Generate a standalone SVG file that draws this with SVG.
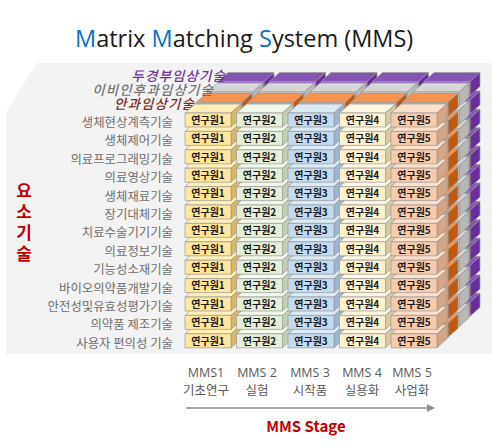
<svg xmlns="http://www.w3.org/2000/svg" xmlns:xlink="http://www.w3.org/1999/xlink" width="500" height="446" viewBox="0 0 500 446">
<style>
.lbl{font-family:"Noto Sans CJK KR",sans-serif;font-size:12.4px;fill:#6f6f6f;text-anchor:end}
.cell{font-family:"Noto Sans CJK KR",sans-serif;font-size:10px;font-weight:bold;fill:#1a1a1a;text-anchor:middle}
.lay{font-family:"Noto Sans CJK KR",sans-serif;font-size:13.5px;letter-spacing:1.1px;font-style:italic;font-weight:500;text-anchor:end}
.stg{font-family:"Noto Sans CJK KR",sans-serif;font-size:12.5px;fill:#595959;text-anchor:middle}
.stm{font-family:"Open Sans","Noto Sans",sans-serif;font-size:12.5px;fill:#595959;text-anchor:middle}
.bx{stroke:#9a9a9a;stroke-width:0.7;stroke-linejoin:round}
</style>
<defs>
<g id="c1" class="bx"><path d="M0,0 L10,-9 L56,-9 L46,0Z" fill="#fff0b8"/><path d="M46,0 L56,-9 L56,5 L46,14Z" fill="#d8b868"/><rect width="46" height="14" fill="#ffe699"/></g>
<g id="c2" class="bx"><path d="M0,0 L10,-9 L56,-9 L46,0Z" fill="#f2f8ec"/><path d="M46,0 L56,-9 L56,5 L46,14Z" fill="#c2cfb5"/><rect width="46" height="14" fill="#e4efda"/></g>
<g id="c3" class="bx"><path d="M0,0 L10,-9 L56,-9 L46,0Z" fill="#dceaf7"/><path d="M46,0 L56,-9 L56,5 L46,14Z" fill="#9fb6cc"/><rect width="46" height="14" fill="#c3dbf0"/></g>
<g id="c4" class="bx"><path d="M0,0 L10,-9 L56,-9 L46,0Z" fill="#fff8e4"/><path d="M46,0 L56,-9 L56,5 L46,14Z" fill="#d9c9a0"/><rect width="46" height="14" fill="#fff2cf"/></g>
<g id="c5" class="bx"><path d="M0,0 L10,-9 L56,-9 L46,0Z" fill="#fce0cc"/><path d="M46,0 L56,-9 L56,5 L46,14Z" fill="#d6a584"/><rect width="46" height="14" fill="#f8cbad"/></g>
<g id="bo" class="bx"><path d="M0,0 L10,-9 L56,-9 L46,0Z" fill="#f59450"/><path d="M46,0 L56,-9 L56,5 L46,14Z" fill="#bf5a12"/><rect width="46" height="14" fill="#f4a46c"/></g>
<g id="bg" class="bx"><path d="M0,0 L10,-9 L56,-9 L46,0Z" fill="#d6d6d6"/><path d="M46,0 L56,-9 L56,5 L46,14Z" fill="#b8b8b8"/><rect width="46" height="14" fill="#cfcfcf"/></g>
<g id="bp" class="bx"><path d="M0,0 L10,-9 L56,-9 L46,0Z" fill="#8455b4"/><path d="M46,0 L56,-9 L56,5 L46,14Z" fill="#6a2e9c"/><rect width="46" height="14" fill="#9466c2"/></g>
<marker id="arr" viewBox="0 0 10 10" refX="9" refY="5" markerWidth="5" markerHeight="5" orient="auto"><path d="M0,0 L10,5 L0,10Z" fill="#8c8c8c"/></marker>
</defs>

<path d="M37,63 L492,63 L492,354 L6,354 L6,112 Z" fill="#f3f3f3"/>

<text x="75" y="47" font-family="'Open Sans','Noto Sans',sans-serif" font-size="23.5" fill="#1a1a1a"><tspan fill="#0a70c8">M</tspan>atrix <tspan fill="#0a70c8">M</tspan>atching <tspan fill="#0a70c8">S</tspan>ystem (MMS)</text>

<g id="layer-purple" transform="translate(33,-31.5)">
<use href="#bp" x="391" y="333.8"/><use href="#bp" x="391" y="315.4"/><use href="#bp" x="391" y="297"/><use href="#bp" x="391" y="278.6"/><use href="#bp" x="391" y="260.2"/><use href="#bp" x="391" y="241.8"/><use href="#bp" x="391" y="223.4"/><use href="#bp" x="391" y="205"/><use href="#bp" x="391" y="186.6"/><use href="#bp" x="391" y="168.2"/><use href="#bp" x="391" y="149.8"/><use href="#bp" x="391" y="131.4"/>
<use href="#bp" x="185" y="113"/><use href="#bp" x="236.5" y="113"/><use href="#bp" x="288" y="113"/><use href="#bp" x="339.5" y="113"/><use href="#bp" x="391" y="113"/>
</g>
<g id="layer-grey" transform="translate(22,-21)">
<use href="#bg" x="391" y="333.8"/><use href="#bg" x="391" y="315.4"/><use href="#bg" x="391" y="297"/><use href="#bg" x="391" y="278.6"/><use href="#bg" x="391" y="260.2"/><use href="#bg" x="391" y="241.8"/><use href="#bg" x="391" y="223.4"/><use href="#bg" x="391" y="205"/><use href="#bg" x="391" y="186.6"/><use href="#bg" x="391" y="168.2"/><use href="#bg" x="391" y="149.8"/><use href="#bg" x="391" y="131.4"/>
<use href="#bg" x="185" y="113"/><use href="#bg" x="236.5" y="113"/><use href="#bg" x="288" y="113"/><use href="#bg" x="339.5" y="113"/><use href="#bg" x="391" y="113"/>
</g>
<g id="layer-orange" transform="translate(11,-10.5)">
<use href="#bo" x="391" y="333.8"/><use href="#bo" x="391" y="315.4"/><use href="#bo" x="391" y="297"/><use href="#bo" x="391" y="278.6"/><use href="#bo" x="391" y="260.2"/><use href="#bo" x="391" y="241.8"/><use href="#bo" x="391" y="223.4"/><use href="#bo" x="391" y="205"/><use href="#bo" x="391" y="186.6"/><use href="#bo" x="391" y="168.2"/><use href="#bo" x="391" y="149.8"/><use href="#bo" x="391" y="131.4"/>
<use href="#bo" x="185" y="113"/><use href="#bo" x="236.5" y="113"/><use href="#bo" x="288" y="113"/><use href="#bo" x="339.5" y="113"/><use href="#bo" x="391" y="113"/>
</g>

<text id="layer-labels" class="lay"><tspan x="226" y="80.5" fill="#7030a0">두경부임상기술</tspan><tspan x="214" y="95" fill="#737373">이비인후과임상기술</tspan><tspan x="195" y="108.5" fill="#7b2a1e">안과임상기술</tspan></text>

<g id="grid">
<g id="r12"><g transform="translate(185,333.8)"><use href="#c1"/><text class="cell" x="23" y="10.8">연구원1</text></g><g transform="translate(236.5,333.8)"><use href="#c2"/><text class="cell" x="23" y="10.8">연구원2</text></g><g transform="translate(288,333.8)"><use href="#c3"/><text class="cell" x="23" y="10.8">연구원3</text></g><g transform="translate(339.5,333.8)"><use href="#c4"/><text class="cell" x="23" y="10.8">연구원4</text></g><g transform="translate(391,333.8)"><use href="#c5"/><text class="cell" x="23" y="10.8">연구원5</text></g></g>
<g id="r11"><g transform="translate(185,315.4)"><use href="#c1"/><text class="cell" x="23" y="10.8">연구원1</text></g><g transform="translate(236.5,315.4)"><use href="#c2"/><text class="cell" x="23" y="10.8">연구원2</text></g><g transform="translate(288,315.4)"><use href="#c3"/><text class="cell" x="23" y="10.8">연구원3</text></g><g transform="translate(339.5,315.4)"><use href="#c4"/><text class="cell" x="23" y="10.8">연구원4</text></g><g transform="translate(391,315.4)"><use href="#c5"/><text class="cell" x="23" y="10.8">연구원5</text></g></g>
<g id="r10"><g transform="translate(185,297)"><use href="#c1"/><text class="cell" x="23" y="10.8">연구원1</text></g><g transform="translate(236.5,297)"><use href="#c2"/><text class="cell" x="23" y="10.8">연구원2</text></g><g transform="translate(288,297)"><use href="#c3"/><text class="cell" x="23" y="10.8">연구원3</text></g><g transform="translate(339.5,297)"><use href="#c4"/><text class="cell" x="23" y="10.8">연구원4</text></g><g transform="translate(391,297)"><use href="#c5"/><text class="cell" x="23" y="10.8">연구원5</text></g></g>
<g id="r9"><g transform="translate(185,278.6)"><use href="#c1"/><text class="cell" x="23" y="10.8">연구원1</text></g><g transform="translate(236.5,278.6)"><use href="#c2"/><text class="cell" x="23" y="10.8">연구원2</text></g><g transform="translate(288,278.6)"><use href="#c3"/><text class="cell" x="23" y="10.8">연구원3</text></g><g transform="translate(339.5,278.6)"><use href="#c4"/><text class="cell" x="23" y="10.8">연구원4</text></g><g transform="translate(391,278.6)"><use href="#c5"/><text class="cell" x="23" y="10.8">연구원5</text></g></g>
<g id="r8"><g transform="translate(185,260.2)"><use href="#c1"/><text class="cell" x="23" y="10.8">연구원1</text></g><g transform="translate(236.5,260.2)"><use href="#c2"/><text class="cell" x="23" y="10.8">연구원2</text></g><g transform="translate(288,260.2)"><use href="#c3"/><text class="cell" x="23" y="10.8">연구원3</text></g><g transform="translate(339.5,260.2)"><use href="#c4"/><text class="cell" x="23" y="10.8">연구원4</text></g><g transform="translate(391,260.2)"><use href="#c5"/><text class="cell" x="23" y="10.8">연구원5</text></g></g>
<g id="r7"><g transform="translate(185,241.8)"><use href="#c1"/><text class="cell" x="23" y="10.8">연구원1</text></g><g transform="translate(236.5,241.8)"><use href="#c2"/><text class="cell" x="23" y="10.8">연구원2</text></g><g transform="translate(288,241.8)"><use href="#c3"/><text class="cell" x="23" y="10.8">연구원3</text></g><g transform="translate(339.5,241.8)"><use href="#c4"/><text class="cell" x="23" y="10.8">연구원4</text></g><g transform="translate(391,241.8)"><use href="#c5"/><text class="cell" x="23" y="10.8">연구원5</text></g></g>
<g id="r6"><g transform="translate(185,223.4)"><use href="#c1"/><text class="cell" x="23" y="10.8">연구원1</text></g><g transform="translate(236.5,223.4)"><use href="#c2"/><text class="cell" x="23" y="10.8">연구원2</text></g><g transform="translate(288,223.4)"><use href="#c3"/><text class="cell" x="23" y="10.8">연구원3</text></g><g transform="translate(339.5,223.4)"><use href="#c4"/><text class="cell" x="23" y="10.8">연구원4</text></g><g transform="translate(391,223.4)"><use href="#c5"/><text class="cell" x="23" y="10.8">연구원5</text></g></g>
<g id="r5"><g transform="translate(185,205)"><use href="#c1"/><text class="cell" x="23" y="10.8">연구원1</text></g><g transform="translate(236.5,205)"><use href="#c2"/><text class="cell" x="23" y="10.8">연구원2</text></g><g transform="translate(288,205)"><use href="#c3"/><text class="cell" x="23" y="10.8">연구원3</text></g><g transform="translate(339.5,205)"><use href="#c4"/><text class="cell" x="23" y="10.8">연구원4</text></g><g transform="translate(391,205)"><use href="#c5"/><text class="cell" x="23" y="10.8">연구원5</text></g></g>
<g id="r4"><g transform="translate(185,186.6)"><use href="#c1"/><text class="cell" x="23" y="10.8">연구원1</text></g><g transform="translate(236.5,186.6)"><use href="#c2"/><text class="cell" x="23" y="10.8">연구원2</text></g><g transform="translate(288,186.6)"><use href="#c3"/><text class="cell" x="23" y="10.8">연구원3</text></g><g transform="translate(339.5,186.6)"><use href="#c4"/><text class="cell" x="23" y="10.8">연구원4</text></g><g transform="translate(391,186.6)"><use href="#c5"/><text class="cell" x="23" y="10.8">연구원5</text></g></g>
<g id="r3"><g transform="translate(185,168.2)"><use href="#c1"/><text class="cell" x="23" y="10.8">연구원1</text></g><g transform="translate(236.5,168.2)"><use href="#c2"/><text class="cell" x="23" y="10.8">연구원2</text></g><g transform="translate(288,168.2)"><use href="#c3"/><text class="cell" x="23" y="10.8">연구원3</text></g><g transform="translate(339.5,168.2)"><use href="#c4"/><text class="cell" x="23" y="10.8">연구원4</text></g><g transform="translate(391,168.2)"><use href="#c5"/><text class="cell" x="23" y="10.8">연구원5</text></g></g>
<g id="r2"><g transform="translate(185,149.8)"><use href="#c1"/><text class="cell" x="23" y="10.8">연구원1</text></g><g transform="translate(236.5,149.8)"><use href="#c2"/><text class="cell" x="23" y="10.8">연구원2</text></g><g transform="translate(288,149.8)"><use href="#c3"/><text class="cell" x="23" y="10.8">연구원3</text></g><g transform="translate(339.5,149.8)"><use href="#c4"/><text class="cell" x="23" y="10.8">연구원4</text></g><g transform="translate(391,149.8)"><use href="#c5"/><text class="cell" x="23" y="10.8">연구원5</text></g></g>
<g id="r1"><g transform="translate(185,131.4)"><use href="#c1"/><text class="cell" x="23" y="10.8">연구원1</text></g><g transform="translate(236.5,131.4)"><use href="#c2"/><text class="cell" x="23" y="10.8">연구원2</text></g><g transform="translate(288,131.4)"><use href="#c3"/><text class="cell" x="23" y="10.8">연구원3</text></g><g transform="translate(339.5,131.4)"><use href="#c4"/><text class="cell" x="23" y="10.8">연구원4</text></g><g transform="translate(391,131.4)"><use href="#c5"/><text class="cell" x="23" y="10.8">연구원5</text></g></g>
<g id="r0"><g transform="translate(185,113)"><use href="#c1"/><text class="cell" x="23" y="10.8">연구원1</text></g><g transform="translate(236.5,113)"><use href="#c2"/><text class="cell" x="23" y="10.8">연구원2</text></g><g transform="translate(288,113)"><use href="#c3"/><text class="cell" x="23" y="10.8">연구원3</text></g><g transform="translate(339.5,113)"><use href="#c4"/><text class="cell" x="23" y="10.8">연구원4</text></g><g transform="translate(391,113)"><use href="#c5"/><text class="cell" x="23" y="10.8">연구원5</text></g></g>
</g>

<g id="row-labels">
<text class="lbl" x="173" y="127">생체현상계측기술</text>
<text class="lbl" x="173" y="145.4">생체제어기술</text>
<text class="lbl" x="173" y="163.8">의료프로그래밍기술</text>
<text class="lbl" x="173" y="182.2">의료영상기술</text>
<text class="lbl" x="173" y="200.6">생체재료기술</text>
<text class="lbl" x="173" y="219">장기대체기술</text>
<text class="lbl" x="173" y="237.4">치료수술기기기술</text>
<text class="lbl" x="173" y="255.8">의료정보기술</text>
<text class="lbl" x="173" y="274.2">기능성소재기술</text>
<text class="lbl" x="173" y="292.6">바이오의약품개발기술</text>
<text class="lbl" x="173" y="311">안전성및유효성평가기술</text>
<text class="lbl" x="173" y="329.4">의약품 제조기술</text>
<text class="lbl" x="173" y="347.8">사용자 편의성 기술</text>
</g>

<text id="axis-label" x="24" y="182" writing-mode="tb" style="writing-mode:vertical-rl" letter-spacing="4" font-family="'Noto Sans CJK KR',sans-serif" font-size="17" font-weight="bold" fill="#c00000">요소기술</text>

<g id="stages">
<text class="stm" x="206" y="377">MMS1</text><text class="stg" x="206" y="395">기초연구</text>
<text class="stm" x="257" y="377">MMS 2</text><text class="stg" x="257" y="395">실험</text>
<text class="stm" x="310" y="377">MMS 3</text><text class="stg" x="310" y="395">시작품</text>
<text class="stm" x="362" y="377">MMS 4</text><text class="stg" x="362" y="395">실용화</text>
<text class="stm" x="412" y="377">MMS 5</text><text class="stg" x="412" y="395">사업화</text>
</g>

<g id="connectors">
<line x1="186" y1="408" x2="434" y2="408" stroke="#8c8c8c" stroke-width="1.6" marker-end="url(#arr)"/>
</g>

<text x="306" y="432" font-family="'Noto Sans CJK KR',sans-serif" font-size="15" font-weight="bold" fill="#c00000" text-anchor="middle">MMS Stage</text>
</svg>
